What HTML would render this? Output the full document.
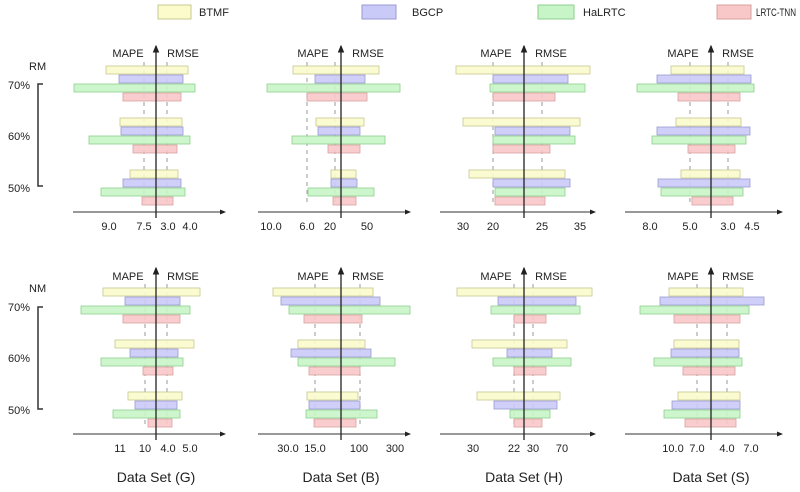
<!DOCTYPE html>
<html><head><meta charset="utf-8"><style>
html,body{margin:0;padding:0;background:#fff;width:800px;height:492px;overflow:hidden}
svg{display:block;font-family:"Liberation Sans",sans-serif}
</style></head><body>
<svg id="s" width="800" height="492" viewBox="0 0 800 492">
<defs><marker id="ar" markerWidth="6" markerHeight="6" refX="5" refY="3" orient="auto"><path d="M0,0.5 L6,3 L0,5.5z" fill="#222"/></marker></defs>
<g font-size="11" fill="#222">
<rect x="158" y="5" width="33" height="14" fill="#fbfbcc" stroke="#c8c890"/><text x="199" y="16">BTMF</text>
<rect x="362" y="5" width="34" height="14" fill="#cacaf8" stroke="#9a9ad0"/><text x="412" y="16">BGCP</text>
<rect x="538" y="5" width="36" height="14" fill="#c8f5c8" stroke="#8ed08e"/><text x="583" y="16">HaLRTC</text>
<rect x="717" y="5" width="34" height="14" fill="#f8c8c8" stroke="#d8a0a0"/><text x="756" y="16" textLength="40" lengthAdjust="spacingAndGlyphs">LRTC-TNN</text>
<text x="29" y="70">RM</text><text x="8" y="89">70%</text><text x="8" y="140">60%</text><text x="8" y="192">50%</text>
<text x="29" y="292">NM</text><text x="8" y="311">70%</text><text x="8" y="362">60%</text><text x="8" y="414">50%</text>
</g>
<g stroke="#333" stroke-width="1.5" fill="none">
<path d="M43,84 H38 V186 H43"/><path d="M43,307 H38 V409 H43"/>
</g>
<g id="bars"></g>
<g font-size="11" fill="#222" text-anchor="middle">
<text x="128" y="57">MAPE</text><text x="183" y="57">RMSE</text>
<text x="313" y="57">MAPE</text><text x="368" y="57">RMSE</text>
<text x="496" y="57">MAPE</text><text x="551" y="57">RMSE</text>
<text x="683" y="57">MAPE</text><text x="738" y="57">RMSE</text>
<text x="128" y="280">MAPE</text><text x="183" y="280">RMSE</text>
<text x="313" y="280">MAPE</text><text x="368" y="280">RMSE</text>
<text x="496" y="280">MAPE</text><text x="551" y="280">RMSE</text>
<text x="683" y="280">MAPE</text><text x="738" y="280">RMSE</text>
<text x="109" y="230">9.0</text><text x="144" y="230">7.5</text><text x="168" y="230">3.0</text><text x="190" y="230">4.0</text>
<text x="271" y="230">10.0</text><text x="307" y="230">6.0</text><text x="330" y="230">20</text><text x="367" y="230">50</text>
<text x="463" y="230">30</text><text x="493" y="230">20</text><text x="542" y="230">25</text><text x="580" y="230">35</text>
<text x="650" y="230">8.0</text><text x="690" y="230">5.0</text><text x="728" y="230">3.0</text><text x="752" y="230">4.5</text>
<text x="120" y="452">11</text><text x="145" y="452">10</text><text x="168" y="452">4.0</text><text x="190" y="452">5.0</text>
<text x="288" y="452">30.0</text><text x="315" y="452">15.0</text><text x="359" y="452">100</text><text x="395" y="452">300</text>
<text x="473" y="452">30</text><text x="514" y="452">22</text><text x="533" y="452">30</text><text x="562" y="452">70</text>
<text x="673" y="452">10.0</text><text x="697" y="452">7.0</text><text x="727" y="452">4.0</text><text x="751" y="452">7.0</text>
</g>
<g font-size="14" fill="#222" text-anchor="middle">
<text x="156" y="482">Data Set (G)</text><text x="341" y="482">Data Set (B)</text>
<text x="524" y="482">Data Set (H)</text><text x="711" y="482">Data Set (S)</text>
</g>
</svg>
<script>
var P=[
[156,73,225,144,167,0,[[106,188,119,183,74,195,123,181],[120,182,121,183,89,190,133,177],[130,178,123,181,101,185,142,173]]],
[341,258,410,307,335,0,[[293,379,315,365,267,400,307,367],[316,364,318,360,292,385,328,360],[331,356,331,357,308,374,333,356]]],
[524,440,595,493,542,0,[[456,590,493,568,490,585,493,555],[463,580,495,570,493,575,493,550],[469,565,493,570,495,565,495,545]]],
[711,625,782,690,728,0,[[671,744,657,751,637,754,678,740],[676,741,657,750,652,746,688,735],[681,740,658,750,661,743,692,733]]],
[156,73,225,145,167,222,[[103,200,125,180,81,190,123,180],[115,194,130,178,101,183,143,173],[128,182,135,177,113,180,148,172]]],
[341,258,410,315,360,222,[[273,373,281,380,289,410,304,362],[298,365,291,371,298,395,309,360],[307,358,309,360,306,377,314,356]]],
[524,440,595,514,533,222,[[457,592,498,576,491,580,514,546],[472,567,507,552,493,571,514,546],[477,560,494,557,510,550,514,542]]],
[711,625,782,697,727,222,[[669,743,660,764,640,749,674,740],[674,739,671,739,654,742,683,735],[678,740,672,740,664,740,685,736]]]];
var F=["#fbfbcc","#cacaf8","#c8f5c8","#f8c8c8"],S=["#c8c890","#9a9ad0","#8ed08e","#d8a0a0"];
var G=[66,118,170],h='';
P.forEach(function(p){var o=p[5];
h+='<line x1="'+p[3]+'" x2="'+p[3]+'" y1="'+(62+o)+'" y2="'+(206+o)+'" stroke="#999" stroke-dasharray="4,4"/>';
h+='<line x1="'+p[4]+'" x2="'+p[4]+'" y1="'+(62+o)+'" y2="'+(206+o)+'" stroke="#999" stroke-dasharray="4,4"/>';
p[6].forEach(function(g,gi){for(var k=0;k<4;k++){var y=G[gi]+o+k*9;
h+='<rect x="'+g[2*k]+'" y="'+y+'" width="'+(g[2*k+1]-g[2*k])+'" height="8" fill="'+F[k]+'" fill-opacity="0.9" stroke="'+S[k]+'" stroke-width="0.8"/>';}});
h+='<line x1="'+p[1]+'" x2="'+p[2]+'" y1="'+(212+o)+'" y2="'+(212+o)+'" stroke="#333" marker-end="url(#ar)"/>';
h+='<line x1="'+p[0]+'" x2="'+p[0]+'" y1="'+(218+o)+'" y2="'+(46+o)+'" stroke="#222" stroke-width="1.3" marker-end="url(#ar)"/>';
});
document.getElementById('bars').innerHTML=h;
</script>
</body></html>
